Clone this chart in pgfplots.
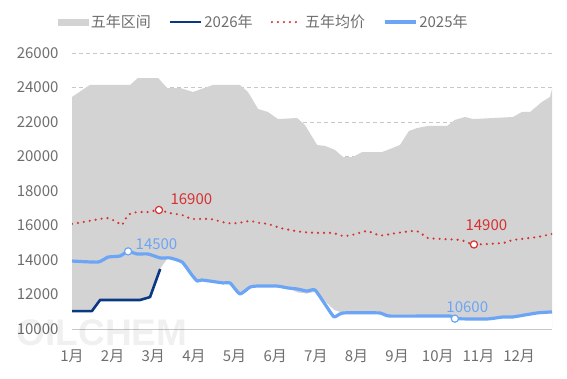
\documentclass[border=0pt]{standalone}
\usepackage{fontspec}
\setmainfont{Noto Sans CJK SC}
\newfontfamily\wmfont{Liberation Sans}
\usepackage{pgfplots}
\pgfplotsset{compat=1.18}
\definecolor{band}{RGB}{211,211,211}
\definecolor{dblue}{RGB}{10,56,130}
\definecolor{lblue}{RGB}{108,165,245}
\definecolor{avgred}{RGB}{214,50,50}
\definecolor{txt}{RGB}{110,110,110}
\definecolor{gridc}{RGB}{200,200,200}
\definecolor{axisc}{RGB}{190,190,190}
\begin{document}
\begin{tikzpicture}
\path (0pt,0pt) rectangle (567pt,378pt);
\begin{axis}[
  set layers=standard,
  axis line style={/pgfplots/on layer=axis foreground},
  tick style={/pgfplots/on layer=axis foreground},
  scale only axis, width=480pt, height=276pt,
  at={(72pt,49pt)}, anchor=south west,
  xmin=1, xmax=12.81, ymin=10000, ymax=26000,
  separate axis lines,
  axis x line*=bottom, axis y line*=left,
  x axis line style={draw=axisc, line width=0.8pt},
  y axis line style={draw=none},
  xtick={1,...,12},
  xticklabels={1月,2月,3月,4月,5月,6月,7月,8月,9月,10月,11月,12月},
  ytick={10000,12000,...,26000},
  xtick style={draw=axisc, line width=0.8pt},
  ytick style={draw=none},
  major tick length=5pt, tick align=inside,
  ymajorgrids,
  grid style={gridc, dash pattern=on 4pt off 3pt, line width=0.8pt},
  scaled y ticks=false,
  /pgf/number format/assume math mode=true,
  yticklabel style={/pgf/number format/fixed, /pgf/number format/1000 sep={}, text=txt, xshift=-10pt},
  xticklabel style={text=txt, yshift=-17pt},
  tick label style={font=\fontsize{15}{18}\selectfont},
  legend style={at={(-0.03,1.112)}, anchor=west, draw=none, fill=none, legend columns=4,
    font=\fontsize{15}{18}\selectfont, text=txt,
    /tikz/every even column/.append style={column sep=16pt}, inner sep=0pt, nodes={inner sep=2pt}},
  legend cell align=left,
]
% five-year range upper bound
\addplot[draw=none, fill=band, legend image code/.code={\fill[band] (0pt,-3.5pt) rectangle (31pt,3.5pt);}] coordinates {
(1.00,23450) (1.44,24150) (2.43,24150) (2.62,24550) (3.12,24550) (3.34,23970) (3.66,23970)
(3.98,23740) (4.47,24150) (5.13,24150) (5.33,23740) (5.58,22750) (5.82,22580) (6.07,22170)
(6.54,22230) (6.73,21830) (7.03,20670) (7.23,20610) (7.47,20380) (7.67,19970) (7.91,19970)
(8.14,20260) (8.63,20260) (8.82,20430) (9.07,20670) (9.29,21480) (9.49,21650) (9.76,21770)
(10.23,21770) (10.42,22120) (10.67,22290) (10.87,22170) (11.85,22290) (12.07,22580)
(12.27,22580) (12.56,23160) (12.76,23450) (12.81,23910)
} \closedcycle;
\addlegendentry{五年区间}
% five-year range lower bound
\addplot[draw=none, fill=white, forget plot] coordinates {
(1.00,11040) (1.49,11040) (1.69,11680) (2.67,11680) (2.92,11850) (3.17,13480) (3.36,14120)
(3.41,14120) (3.71,13880) (3.95,13130) (4.08,12780) (4.20,12840) (4.72,12670) (4.89,12670)
(5.13,12030) (5.38,12430) (5.55,12490) (6.04,12490) (6.31,12380) (6.54,12120) (6.78,12050)
(6.98,12150) (7.27,11500) (7.45,11100) (7.67,10930) (8.58,10930) (8.82,10750) (10.30,10750)
(10.42,10580) (11.21,10580) (11.61,10700) (11.85,10700) (12.44,10930) (12.81,10990)
} \closedcycle;
% 2026
\addplot[dblue, line width=2.6pt, line join=round, legend image code/.code={\draw[dblue, line width=2.6pt] (0pt,0pt) -- (31pt,0pt);}] coordinates {
(1.00,11040) (1.49,11040) (1.69,11680) (2.67,11680) (2.92,11850) (3.17,13480)
};
\addlegendentry{2026年}
% five-year average
\addplot[avgred, line width=2.4pt, line cap=round, dash pattern=on 0pt off 6pt, smooth, tension=0.3,
  legend image code/.code={\draw[avgred, line width=2.4pt, line cap=round, dash pattern=on 0pt off 6pt] (1pt,0pt) -- (31pt,0pt);}] coordinates {
(1.00,16090) (1.27,16200) (1.69,16380) (1.89,16430) (2.11,16200) (2.23,16030) (2.38,16610)
(2.60,16780) (2.87,16780) (3.14,16900) (3.41,16720) (3.71,16610) (3.95,16380) (4.40,16380)
(4.81,16140) (5.08,16140) (5.38,16260) (5.63,16140) (5.82,16090) (6.12,15860) (6.36,15740)
(6.68,15620) (7.03,15570) (7.42,15570) (7.67,15390) (7.89,15450) (8.26,15680) (8.58,15420)
(9.00,15570) (9.37,15680) (9.56,15620) (9.76,15270) (10.55,15160) (10.89,14900) (11.61,14990)
(11.85,15160) (12.44,15330) (12.81,15510)
};
\addlegendentry{五年均价}
% 2025
\addplot[lblue, line width=3.2pt, line join=round, smooth, tension=0.3,
  legend image code/.code={\draw[lblue, line width=3.2pt] (0pt,0pt) -- (31pt,0pt);}] coordinates {
(1.00,13940) (1.64,13880) (1.89,14170) (2.18,14230) (2.38,14500) (2.60,14350) (2.87,14350)
(3.17,14120) (3.41,14120) (3.71,13880) (3.95,13130) (4.08,12780) (4.20,12840) (4.72,12670)
(4.89,12670) (5.13,12030) (5.38,12430) (5.55,12490) (6.04,12490) (6.31,12380) (6.54,12320)
(6.78,12200) (6.98,12260) (7.27,11280) (7.45,10700) (7.67,10930) (8.58,10930) (8.82,10750)
(10.30,10750) (10.42,10600) (11.21,10580) (11.61,10700) (11.85,10700) (12.44,10930) (12.81,10990)
};
\addlegendentry{2025年}
% marked points
\addplot[only marks, mark=*, mark size=3.6pt, mark options={fill=white, draw=avgred, line width=1.2pt},
  nodes near coords, point meta=explicit symbolic,
  nodes near coords style={text=avgred, font=\fontsize{15}{18}\selectfont, anchor=south west, inner sep=0pt, xshift=11pt, yshift=5pt},
  forget plot] coordinates {(3.14,16900) [16900]};
\addplot[only marks, mark=*, mark size=3.6pt, mark options={fill=white, draw=avgred, line width=1.2pt},
  nodes near coords, point meta=explicit symbolic,
  nodes near coords style={text=avgred, font=\fontsize{15}{18}\selectfont, anchor=south west, inner sep=0pt, xshift=-9pt, yshift=13pt},
  forget plot] coordinates {(10.89,14900) [14900]};
\addplot[only marks, mark=*, mark size=3.6pt, mark options={fill=white, draw=lblue, line width=1.2pt},
  nodes near coords, point meta=explicit symbolic,
  nodes near coords style={text=lblue, font=\fontsize{15}{18}\selectfont, anchor=south west, inner sep=0pt, xshift=7pt, yshift=1pt},
  forget plot] coordinates {(2.38,14500) [14500]};
\addplot[only marks, mark=*, mark size=3.6pt, mark options={fill=white, draw=lblue, line width=1.2pt},
  nodes near coords, point meta=explicit symbolic,
  nodes near coords style={text=lblue, font=\fontsize{15}{18}\selectfont, anchor=south west, inner sep=0pt, xshift=-9pt, yshift=5pt},
  forget plot] coordinates {(10.42,10600) [10600]};
\end{axis}
\node[text=black, opacity=0.06, font=\wmfont\bfseries\fontsize{37}{37}\selectfont, inner sep=0pt] at (102pt,45pt) {OILCHEM};
\end{tikzpicture}
\end{document}
